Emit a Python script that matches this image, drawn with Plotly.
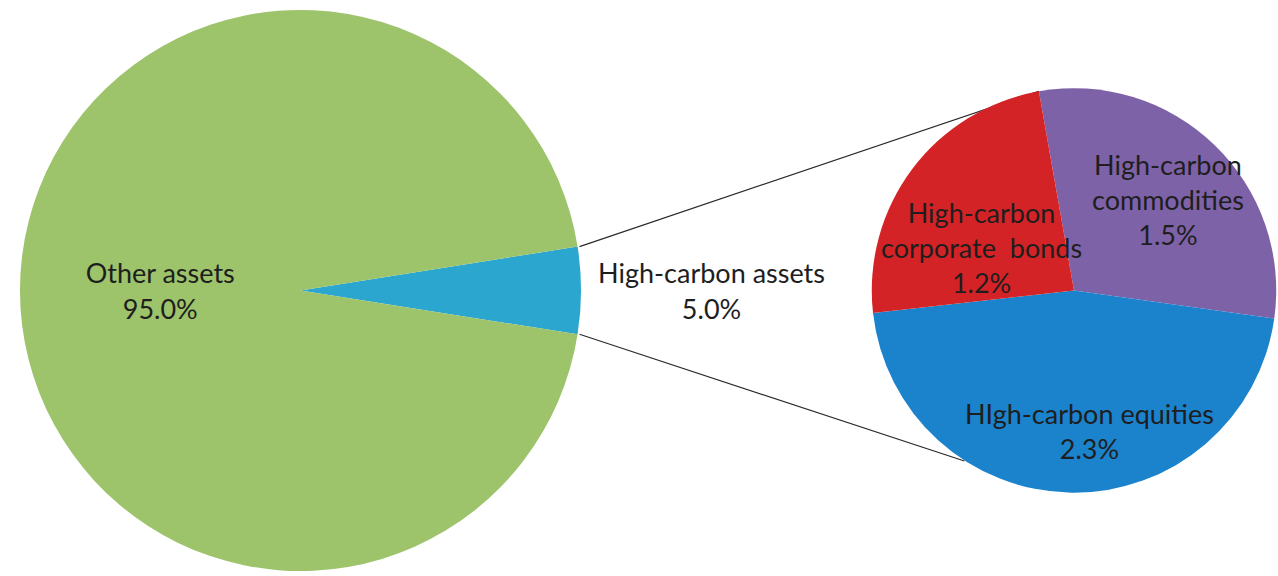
import math
import plotly.graph_objects as go

# ---- data ----
main_labels = ["High-carbon assets", "Other assets"]
main_values = [5.0, 95.0]
main_colors = ["#2BA6CF", "#9DC36B"]

sub_labels = ["High-carbon<br>commodities", "HIgh-carbon equities", "High-carbon<br>corporate  bonds"]
sub_values = [1.5, 2.3, 1.2]
sub_colors = ["#7E62A8", "#1B82CC", "#D42326"]

# label placement inside the second pie: (angle clockwise from 12 o'clock, fraction of radius)
sub_label_pos = [(45.6, 0.645), (173.6, 0.70), (295, 0.50)]

W, H = 1278, 576
FONT = "Lato"
TXT = "#1E1E1E"
FS = 27

# layout geometry (pixels)
main_dom_x = [18 / W, 583 / W]
main_dom_y = [0.0, 566 / H]
sub_dom_x = [870 / W, 1.0]
sub_dom_y = [(H - 293 - 204) / H, (H - 293 + 204) / H]

# rotation so that the small slice is centred on 3 o'clock
main_rot = 90 - main_values[0] / sum(main_values) * 360 / 2
sub_rot = -10

fig = go.Figure()
fig.add_trace(go.Pie(
    labels=main_labels, values=main_values, sort=False, direction="clockwise",
    rotation=main_rot, domain=dict(x=main_dom_x, y=main_dom_y),
    marker=dict(colors=main_colors, line=dict(width=0)),
    texttemplate="%{label}<br>%{value:.1f}%",
    textposition=["outside", "inside"], insidetextorientation="horizontal",
    textfont=dict(family=FONT, size=FS, color=TXT),
    showlegend=False, hoverinfo="label+value",
))
fig.add_trace(go.Pie(
    labels=sub_labels, values=sub_values, sort=False, direction="clockwise",
    rotation=sub_rot, domain=dict(x=sub_dom_x, y=sub_dom_y),
    marker=dict(colors=sub_colors, line=dict(width=0)),
    textinfo="none",
    showlegend=False, hoverinfo="label+value",
))

def pie_geom(dx, dy):
    x0, x1 = dx[0] * W, dx[1] * W
    y0, y1 = (1 - dy[1]) * H, (1 - dy[0]) * H
    r = min(x1 - x0, y1 - y0) / 2
    return (x0 + x1) / 2, (y0 + y1) / 2, r

def pt(geom, ang, frac=1.0):
    cx, cy, r = geom
    a = math.radians(ang)
    return (cx + frac * r * math.sin(a)) / W, 1 - (cy - frac * r * math.cos(a)) / H

mg = pie_geom(main_dom_x, main_dom_y)
sg = pie_geom(sub_dom_x, sub_dom_y)

# connector lines from the 5% wedge edges to the second pie
a_top = main_rot
a_bot = main_rot + main_values[0] / sum(main_values) * 360
p1 = pt(mg, a_top); q1 = pt(sg, sub_rot)
p2 = pt(mg, a_bot); q2 = pt(sg, 212.5)
for p, q in [(p1, q1), (p2, q2)]:
    fig.add_shape(type="line", xref="paper", yref="paper",
                  x0=p[0], y0=p[1], x1=q[0], y1=q[1],
                  line=dict(color="#2A2A2A", width=1.2), layer="below")

# labels of the second pie (Excel-style, allowed to overflow slices)
for lab, val, (ang, frac) in zip(sub_labels, sub_values, sub_label_pos):
    x, y = pt(sg, ang, frac)
    fig.add_annotation(x=x, y=y, xref="paper", yref="paper",
                       text=f"{lab}<br>{val:.1f}%", showarrow=False,
                       xanchor="center", yanchor="middle", align="center",
                       font=dict(family=FONT, size=FS, color=TXT))

fig.update_layout(
    width=W, height=H, margin=dict(l=0, r=0, t=0, b=0),
    paper_bgcolor="white", plot_bgcolor="white",
    font=dict(family=FONT, color=TXT),
)
fig.write_html("out.html")
